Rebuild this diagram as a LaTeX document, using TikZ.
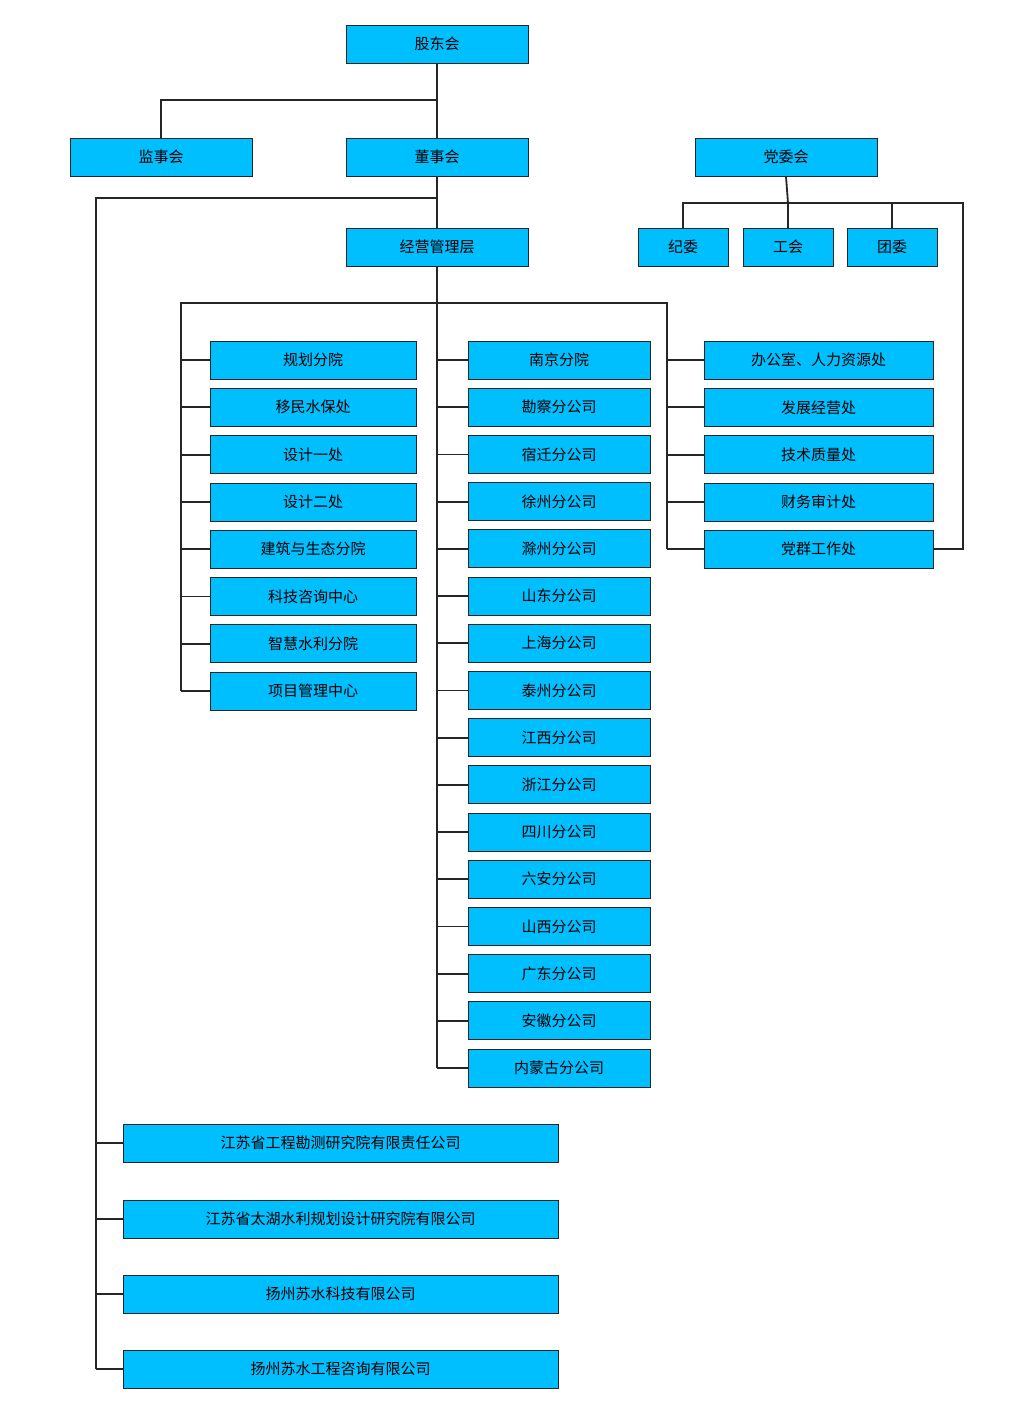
\documentclass[tikz,border=0pt]{standalone}
\usepackage{fontspec}
\setmainfont{Noto Sans CJK SC}
\definecolor{boxc}{RGB}{0,191,255}
\begin{document}
\begin{tikzpicture}[x=1pt,y=-1pt,
 bx/.style={draw=black!85,line width=0.8pt,fill=boxc,minimum height=38pt,inner sep=0pt,font=\fontsize{15}{15}\selectfont},
 ln/.style={line width=1.8pt,black!85}]
\useasboundingbox (0,0) rectangle (1032,1425);
\node[bx,minimum width=182pt] (gd) at (437,44) {股东会};
\node[bx,minimum width=182pt] (js) at (161,157) {监事会};
\node[bx,minimum width=182pt] (ds) at (437,157) {董事会};
\node[bx,minimum width=182pt] (dw) at (786,157) {党委会};
\node[bx,minimum width=182pt] (jy) at (437,247) {经营管理层};
\node[bx,minimum width=90pt] (jw) at (683,247) {纪委};
\node[bx,minimum width=90pt] (gh) at (788,247) {工会};
\node[bx,minimum width=90pt] (tw) at (892,247) {团委};
\foreach \t [count=\i] in {规划分院,移民水保处,设计一处,设计二处,建筑与生态分院,科技咨询中心,智慧水利分院,项目管理中心}
 {\node[bx,minimum width=206pt] (L\i) at (313,{360+(\i-1)*47.3}) {\t};
  \draw[ln] (181,{360+(\i-1)*47.3}) -- (L\i.west);}
\foreach \t [count=\i] in {南京分院,勘察分公司,宿迁分公司,徐州分公司,滁州分公司,山东分公司,上海分公司,泰州分公司,江西分公司,浙江分公司,四川分公司,六安分公司,山西分公司,广东分公司,安徽分公司,内蒙古分公司}
 {\node[bx,minimum width=182pt] (M\i) at (559,{360+(\i-1)*47.2}) {\t};
  \draw[ln] (437,{360+(\i-1)*47.2}) -- (M\i.west);}
\foreach \t [count=\i] in {办公室、人力资源处,发展经营处,技术质量处,财务审计处,党群工作处}
 {\node[bx,minimum width=229pt] (R\i) at (818.5,{360+(\i-1)*47.3}) {\t};
  \draw[ln] (667,{360+(\i-1)*47.3}) -- (R\i.west);}
\foreach \t/\y [count=\i] in {江苏省工程勘测研究院有限责任公司/1143,江苏省太湖水利规划设计研究院有限公司/1219,扬州苏水科技有限公司/1294,扬州苏水工程咨询有限公司/1369}
 {\node[bx,minimum width=435pt] (B\i) at (340.5,\y) {\t};
  \draw[ln] (96,\y) -- (B\i.west);}
\draw[ln] (gd) -- (ds);
\draw[ln] (437,100) -| (js.north);
\draw[ln] (ds) -- (jy);
\draw[ln] (437,198) -| (96,1369);
\draw[ln] (jy.south) -- (M16.west -| 437,0);
\draw[ln] (181,691) |- (667,303) -- (667,549);
\draw[ln] (dw.south) -- (788,203);
\draw[ln] (jw.north) |- (963,203) |- (R5.east);
\draw[ln] (tw.north) -- (892,203);
\draw[ln] (gh.north) -- (788,203);
\end{tikzpicture}
\end{document}
